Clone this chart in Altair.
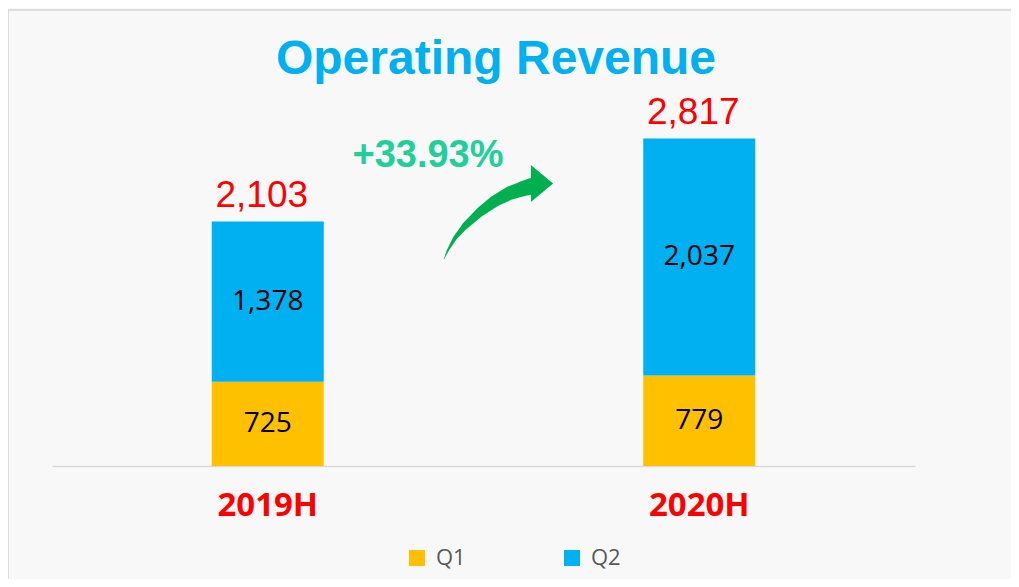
import altair as alt
import pandas as pd

# ---- data ----
categories = ["2019H", "2020H"]
q1_values = [725, 779]
q2_values = [1378, 2037]
totals = [2103, 2817]
growth_label = ["+33.93%"]
title_text = ["Operating Revenue"]

# decorative arrow (plot-pixel coordinates of its centre line)
arrow_x = [392, 396, 403, 413, 428, 443, 458, 470, 480]
arrow_y = [179, 170, 158, 146, 132, 121, 113, 109, 106]
arrow_w = [0.5, 2, 4, 6.5, 9, 11.5, 13.5, 15, 16]
head_x = [490]
head_y = [103.5]
growth_x = [376]
growth_y = [87]
title_x = [444]
title_y = [-6]

W, H = 863, 386
YMAX = 3320

rows = []
for c, a, b in zip(categories, q1_values, q2_values):
    rows.append({"cat": c, "series": "Q1", "start": 0, "end": a, "value": a, "mid": a / 2})
    rows.append({"cat": c, "series": "Q2", "start": a, "end": a + b, "value": b, "mid": a + b / 2})
seg = pd.DataFrame(rows)
tot = pd.DataFrame({"cat": categories, "total": totals})

xband = alt.Scale(type="band", domain=categories, paddingInner=0, paddingOuter=0)
yscale = alt.Scale(domain=[0, YMAX], nice=False, zero=True)
xaxis = alt.Axis(labelAngle=0, ticks=False, domainColor="#d9d9d9", domainWidth=1.5,
                 labelColor="#ff0000", labelFont="Open Sans", labelFontWeight="bold",
                 labelFontSize=33, labelPadding=23, grid=False, title=None)
X = alt.X("cat:N", scale=xband, axis=xaxis, title=None)

bars = alt.Chart(seg).mark_bar(size=112).encode(
    x=X,
    y=alt.Y("start:Q", scale=yscale, axis=None),
    y2="end:Q",
    color=alt.Color("series:N",
                    scale=alt.Scale(domain=["Q1", "Q2"], range=["#ffc000", "#00b0f0"]),
                    legend=alt.Legend(orient="none", legendX=354, legendY=467, direction="horizontal",
                                      title=None, symbolType="square", symbolSize=256,
                                      symbolStrokeWidth=0, labelFontSize=22, labelColor="#595959",
                                      labelFont="Open Sans", columnPadding=95, labelOffset=8,
                                      padding=0)),
)

seg_text = alt.Chart(seg).mark_text(font="Open Sans", fontSize=28, color="#000000",
                                    baseline="middle", align="center").encode(
    x=X,
    y=alt.Y("mid:Q", scale=yscale, axis=None),
    text=alt.Text("value:Q", format=","),
)

tot_text = alt.Chart(tot).mark_text(font="Liberation Sans", fontSize=37, color="#ff0000",
                                    baseline="alphabetic", align="center", dy=-14, dx=-6).encode(
    x=X,
    y=alt.Y("total:Q", scale=yscale, axis=None),
    text=alt.Text("total:Q", format=","),
)

data_layer = alt.layer(bars, seg_text, tot_text)

# pixel-space decoration layer
px = alt.Scale(domain=[0, W], nice=False, zero=False)
py = alt.Scale(domain=[0, H], nice=False, zero=False, reverse=True)

arrow = pd.DataFrame({"x": arrow_x, "y": arrow_y, "w": arrow_w, "o": list(range(len(arrow_x)))})
trail = alt.Chart(arrow).mark_trail(color="#00b050").encode(
    x=alt.X("x:Q", scale=px, axis=None),
    y=alt.Y("y:Q", scale=py, axis=None),
    size=alt.Size("w:Q", scale=None, legend=None),
    order="o:Q",
)
head = alt.Chart(pd.DataFrame({"x": head_x, "y": head_y})).mark_point(
    shape="M -0.6 -1 L 0.6 0 L -0.6 1 Z", filled=True, color="#00b050", opacity=1,
    size=1369, strokeWidth=0).encode(
    x=alt.X("x:Q", scale=px, axis=None),
    y=alt.Y("y:Q", scale=py, axis=None),
)
growth = alt.Chart(pd.DataFrame({"x": growth_x, "y": growth_y, "t": growth_label})).mark_text(
    font="Liberation Sans", fontWeight="bold", fontSize=38, color="#20cf9a",
    align="center", baseline="alphabetic").encode(
    x=alt.X("x:Q", scale=px, axis=None),
    y=alt.Y("y:Q", scale=py, axis=None),
    text="t:N",
)
title = alt.Chart(pd.DataFrame({"x": title_x, "y": title_y, "t": title_text})).mark_text(
    font="Liberation Sans", fontWeight="bold", fontSize=48, color="#00b0f0",
    align="center", baseline="alphabetic").encode(
    x=alt.X("x:Q", scale=px, axis=None),
    y=alt.Y("y:Q", scale=py, axis=None),
    text="t:N",
)
deco_layer = alt.layer(trail, head, growth, title)

one = pd.DataFrame({"a": [0]})
frame_left = alt.Chart(one).mark_rule(color="#d4d4d4", strokeWidth=1.5).encode(
    x=alt.value(-44), y=alt.value(-70), y2=alt.value(H + 113))
frame_top = alt.Chart(one).mark_rule(color="#d4d4d4", strokeWidth=1.5).encode(
    x=alt.value(-44), x2=alt.value(W + 96), y=alt.value(-70))

chart = alt.layer(frame_left, frame_top, data_layer, deco_layer).resolve_scale(
    x="independent", y="independent"
).properties(
    width=W, height=H,
    autosize=alt.AutoSizeParams(type="none"),
    padding={"left": 44, "top": 72, "right": 96, "bottom": 113},
    background="#f8f8f9",
).configure_view(stroke=None)

chart.save("out.html", embed_options={"renderer": "svg", "actions": False})
